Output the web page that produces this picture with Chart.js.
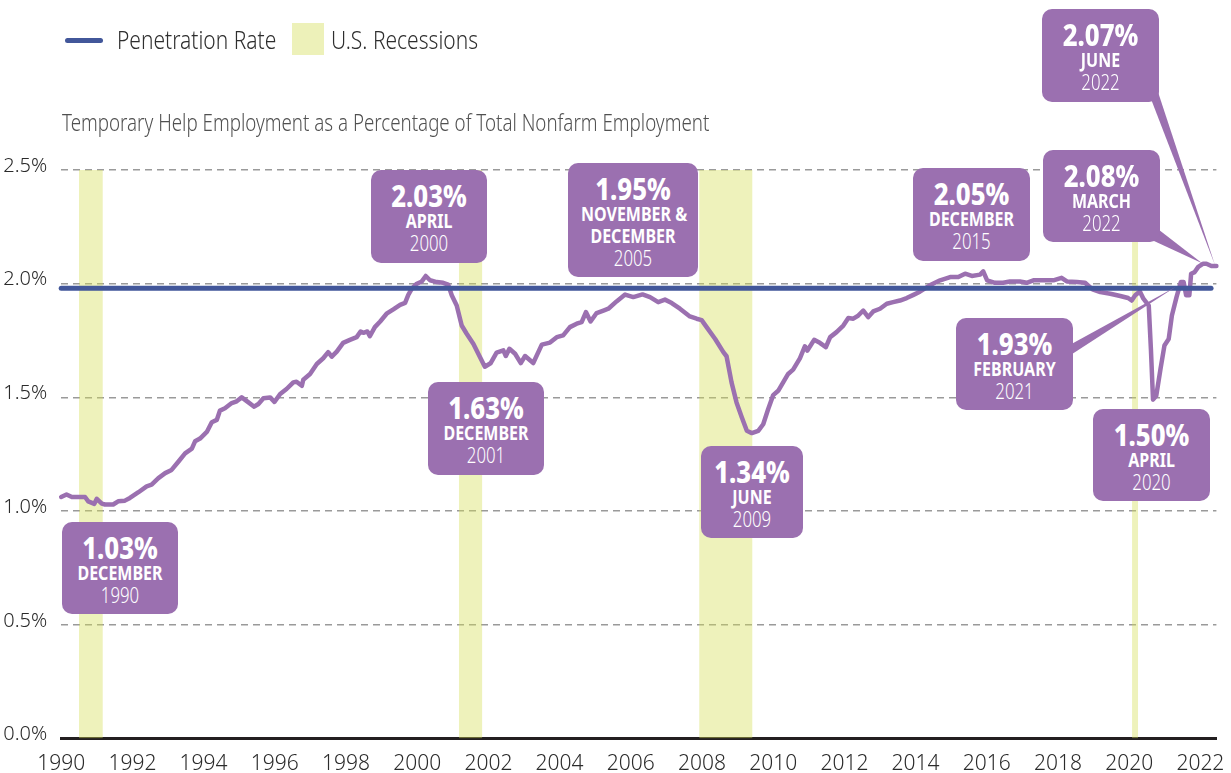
<!DOCTYPE html>
<html>
<head>
<meta charset="utf-8">
<script src="https://cdn.jsdelivr.net/npm/chart.js@4.4.1/dist/chart.umd.min.js"></script>
<style>
  body { margin: 0; background: #fff; }
  #wrap { position: relative; width: 1231px; height: 773px; overflow: hidden;
          font-family: 'Noto Sans', sans-serif; font-weight: 300; color: #333; }
  #chart { position: absolute; left: 0; top: 0; }
  /* the reference face is a condensed sans: squeeze Noto Sans horizontally */
  .legend-item { position: absolute; font-size: 25px; line-height: 32px; top: 23px; color: #2e2e2e;
                 white-space: nowrap; transform: scaleX(0.84); transform-origin: left center; }
  .swatch-line { position: absolute; left: 65px; top: 38px; width: 38px; height: 5px; border-radius: 3px; background: #42579a; }
  .swatch-box { position: absolute; left: 292px; top: 23px; width: 32px; height: 32px; background: #edf1b9; }
  .subtitle { position: absolute; left: 62px; top: 108px; font-size: 23px; line-height: 28px; color: #505050;
              white-space: nowrap; transform: scaleX(0.815); transform-origin: left center; }
  .callout { position: absolute; background: #9b70b0; border-radius: 10px; color: #fff; text-align: center;
             box-sizing: border-box; padding-top: 10px; white-space: nowrap; }
  .callout div { transform: scaleX(0.8); transform-origin: center; }
  .callout .pct { font-weight: 800; font-size: 31px; line-height: 30px; transform: scaleX(0.83); }
  .callout .mon { font-weight: 700; font-size: 20px; line-height: 22px; }
  .callout .yr { font-weight: 300; font-size: 21px; line-height: 22px; }
</style>
</head>
<body>
<div id="wrap">
  <canvas id="chart" width="1231" height="773"></canvas>
  <div class="swatch-line"></div>
  <div class="legend-item" style="left:117px">Penetration Rate</div>
  <div class="swatch-box"></div>
  <div class="legend-item" style="left:331px">U.S. Recessions</div>
  <div class="subtitle">Temporary Help Employment as a Percentage of Total Nonfarm Employment</div>
  <div id="callouts"></div>
</div>
<script>
// ---- data ----
// decimal years (month positions) and the temp-help share of nonfarm jobs, in %
const dates = [
  1990.00, 1990.15, 1990.30, 1990.67, 1990.76, 1990.93, 1991.00, 1991.14, 1991.23, 1991.46,
  1991.60, 1991.79, 1991.93, 1992.17, 1992.40, 1992.54, 1992.73, 1992.92, 1993.10, 1993.29,
  1993.48, 1993.67, 1993.76, 1993.90, 1994.09, 1994.23, 1994.37, 1994.46, 1994.60, 1994.79,
  1994.93, 1995.07, 1995.26, 1995.42, 1995.54, 1995.68, 1995.87, 1995.99, 1996.15, 1996.33,
  1996.52, 1996.61, 1996.76, 1996.80, 1996.99, 1997.18, 1997.36, 1997.50, 1997.60, 1997.74,
  1997.92, 1998.11, 1998.30, 1998.41, 1998.49, 1998.60, 1998.67, 1998.81, 1998.96, 1999.14,
  1999.33, 1999.52, 1999.66, 1999.75, 1999.85, 1999.99, 2000.13, 2000.24, 2000.36, 2000.55,
  2000.73, 2000.87, 2000.97, 2001.11, 2001.25, 2001.39, 2001.58, 2001.72, 2001.90, 2002.06,
  2002.23, 2002.42, 2002.49, 2002.59, 2002.75, 2002.91, 2003.03, 2003.26, 2003.50, 2003.73,
  2003.92, 2004.10, 2004.29, 2004.48, 2004.62, 2004.74, 2004.87, 2005.04, 2005.25, 2005.37,
  2005.60, 2005.84, 2006.07, 2006.33, 2006.54, 2006.77, 2006.96, 2007.15, 2007.38, 2007.66,
  2007.85, 2007.99, 2008.13, 2008.37, 2008.60, 2008.69, 2008.83, 2008.97, 2009.12, 2009.26,
  2009.40, 2009.58, 2009.72, 2009.86, 2010.00, 2010.14, 2010.28, 2010.42, 2010.56, 2010.75,
  2010.89, 2010.96, 2011.15, 2011.31, 2011.48, 2011.60, 2011.78, 2011.97, 2012.11, 2012.25,
  2012.39, 2012.53, 2012.67, 2012.81, 2013.00, 2013.19, 2013.37, 2013.56, 2013.75, 2013.94,
  2014.12, 2014.40, 2014.69, 2014.97, 2015.20, 2015.39, 2015.58, 2015.81, 2015.90, 2016.01,
  2016.23, 2016.46, 2016.65, 2016.93, 2017.12, 2017.31, 2017.59, 2017.87, 2018.10, 2018.25,
  2018.53, 2018.76, 2018.97, 2019.19, 2019.47, 2019.75, 2019.97, 2020.07, 2020.17, 2020.30,
  2020.40, 2020.55, 2020.61, 2020.67, 2020.76, 2020.88, 2020.99, 2021.11, 2021.20, 2021.33,
  2021.45, 2021.53, 2021.60, 2021.69, 2021.74, 2021.84, 2021.94, 2022.08, 2022.17, 2022.31,
  2022.45
];
const rates = [
  1.062, 1.073, 1.062, 1.062, 1.043, 1.032, 1.054, 1.033, 1.029, 1.029,
  1.043, 1.046, 1.058, 1.083, 1.109, 1.116, 1.145, 1.167, 1.181, 1.217,
  1.254, 1.275, 1.307, 1.319, 1.348, 1.391, 1.401, 1.442, 1.452, 1.475,
  1.483, 1.500, 1.478, 1.459, 1.471, 1.496, 1.500, 1.480, 1.515, 1.537,
  1.566, 1.569, 1.551, 1.578, 1.603, 1.647, 1.672, 1.699, 1.679, 1.701,
  1.740, 1.753, 1.765, 1.790, 1.784, 1.790, 1.769, 1.809, 1.834, 1.868,
  1.887, 1.907, 1.916, 1.951, 1.978, 2.000, 2.010, 2.034, 2.015, 2.007,
  2.004, 1.996, 1.949, 1.904, 1.816, 1.780, 1.735, 1.691, 1.635, 1.650,
  1.697, 1.707, 1.682, 1.714, 1.692, 1.651, 1.682, 1.651, 1.732, 1.741,
  1.765, 1.773, 1.809, 1.824, 1.831, 1.875, 1.834, 1.871, 1.883, 1.890,
  1.922, 1.952, 1.941, 1.953, 1.941, 1.919, 1.930, 1.915, 1.890, 1.856,
  1.846, 1.840, 1.809, 1.757, 1.699, 1.681, 1.566, 1.478, 1.412, 1.353,
  1.343, 1.353, 1.382, 1.449, 1.510, 1.529, 1.566, 1.603, 1.622, 1.672,
  1.725, 1.706, 1.753, 1.740, 1.721, 1.765, 1.787, 1.816, 1.849, 1.846,
  1.860, 1.882, 1.853, 1.878, 1.890, 1.912, 1.919, 1.926, 1.937, 1.951,
  1.965, 1.993, 2.015, 2.029, 2.029, 2.044, 2.034, 2.040, 2.054, 2.015,
  2.004, 2.004, 2.010, 2.010, 2.004, 2.015, 2.015, 2.015, 2.026, 2.010,
  2.007, 2.004, 1.975, 1.963, 1.956, 1.946, 1.937, 1.926, 1.949, 1.966,
  1.934, 1.904, 1.713, 1.490, 1.507, 1.625, 1.728, 1.757, 1.860, 1.941,
  2.007, 2.007, 1.949, 1.949, 2.044, 2.051, 2.074, 2.088, 2.088, 2.078,
  2.078
];

// recession bands (start / end as decimal years)
const recessionStart = [1990.50, 2001.17, 2007.92, 2020.08];
const recessionEnd   = [1991.17, 2001.83, 2009.42, 2020.25];

// average penetration rate line
const penetrationRate = 1.98;
const penetrationSpan = [1990, 2022.3];

// axis ticks
const yearTicks = [1990, 1992, 1994, 1996, 1998, 2000, 2002, 2004, 2006, 2008,
                   2010, 2012, 2014, 2016, 2018, 2020, 2022];
const rateTicks = [0, 0.5, 1.0, 1.5, 2.0, 2.5];

// ---- callouts (layout only) ----
const callouts = [
  { lines: ['1.03%', 'DECEMBER', '1990'],              left: 62,   top: 522, w: 116, h: 92 },
  { lines: ['2.03%', 'APRIL', '2000'],                 left: 371,  top: 170, w: 116, h: 93 },
  { lines: ['1.63%', 'DECEMBER', '2001'],              left: 428,  top: 382, w: 116, h: 93 },
  { lines: ['1.95%', 'NOVEMBER &', 'DECEMBER', '2005'], left: 568, top: 163, w: 130, h: 114 },
  { lines: ['1.34%', 'JUNE', '2009'],                  left: 701,  top: 446, w: 102, h: 92 },
  { lines: ['2.05%', 'DECEMBER', '2015'],              left: 913,  top: 168, w: 117, h: 93 },
  { lines: ['2.08%', 'MARCH', '2022'],                 left: 1043, top: 150, w: 117, h: 92 },
  { lines: ['2.07%', 'JUNE', '2022'],                  left: 1042, top: 9,   w: 117, h: 93 },
  { lines: ['1.93%', 'FEBRUARY', '2021'],              left: 956,  top: 318, w: 117, h: 92 },
  { lines: ['1.50%', 'APRIL', '2020'],                 left: 1093, top: 409, w: 117, h: 92 }
];

// wedge pointers: base corners in page pixels, tip in data units
const pointers = [
  { base: [[1066, 347], [1066, 358]], tip: [2021.30, 1.985] },
  { base: [[1154, 226], [1154, 241]], tip: [2022.05, 2.090] },
  { base: [[1151, 99],  [1158, 92]],  tip: [2022.41, 2.082] }
];

const PURPLE = '#9b70b0';
const FAMILY = "'Noto Sans', sans-serif";

const box = document.getElementById('callouts');
callouts.forEach(c => {
  const d = document.createElement('div');
  d.className = 'callout';
  Object.assign(d.style, { left: c.left + 'px', top: c.top + 'px', width: c.w + 'px', height: c.h + 'px' });
  c.lines.forEach((t, i) => {
    const s = document.createElement('div');
    s.className = i === 0 ? 'pct' : (i === c.lines.length - 1 ? 'yr' : 'mon');
    s.textContent = t;
    d.appendChild(s);
  });
  box.appendChild(d);
});

/* pointer wedges for the late callouts */
const pointerPlugin = {
  id: 'pointers',
  afterDatasetsDraw(chart) {
    const { ctx, scales: { x, y } } = chart;
    ctx.save();
    ctx.fillStyle = PURPLE;
    pointers.forEach(p => {
      ctx.beginPath();
      ctx.moveTo(p.base[0][0], p.base[0][1]);
      ctx.lineTo(p.base[1][0], p.base[1][1]);
      ctx.lineTo(x.getPixelForValue(p.tip[0]), y.getPixelForValue(p.tip[1]));
      ctx.closePath();
      ctx.fill();
    });
    ctx.restore();
  }
};

const bandSets = recessionStart.map((s, i) => ({
  label: 'U.S. Recessions',
  data: [{ x: s, y: 2.5 }, { x: recessionEnd[i], y: 2.5 }],
  fill: 'origin',
  backgroundColor: 'rgba(212, 222, 84, 0.4)',
  borderWidth: 0,
  pointRadius: 0,
  order: 3
}));

const tickFont = { family: FAMILY, size: 21, weight: '300' };

new Chart(document.getElementById('chart'), {
  type: 'line',
  data: {
    datasets: [
      {
        label: 'Penetration Rate',
        data: [{ x: penetrationSpan[0], y: penetrationRate }, { x: penetrationSpan[1], y: penetrationRate }],
        borderColor: '#42579a',
        borderWidth: 5,
        borderCapStyle: 'round',
        pointRadius: 0,
        clip: 8,
        order: 0
      },
      {
        label: 'Temporary Help Employment',
        data: dates.map((d, i) => ({ x: d, y: rates[i] })),
        borderColor: PURPLE,
        borderWidth: 4.5,
        borderJoinStyle: 'round',
        borderCapStyle: 'round',
        pointRadius: 0,
        tension: 0,
        fill: false,
        clip: 6,
        order: 1
      },
      ...bandSets
    ]
  },
  options: {
    responsive: false,
    animation: false,
    devicePixelRatio: 1,
    layout: { padding: { top: 170, right: 14.6, left: 0, bottom: 0 } },
    plugins: { legend: { display: false }, tooltip: { enabled: false } },
    scales: {
      x: {
        type: 'linear',
        min: 1990,
        max: 2022.45,
        afterBuildTicks: s => { s.ticks = yearTicks.map(v => ({ value: v })); },
        // fixed axis band; labels may overhang the plot edges
        afterFit: s => { s.height = 34.5; s.paddingLeft = 0; s.paddingRight = 0; },
        ticks: {
          callback: v => String(v),
          font: tickFont,
          color: '#2b2b2b',
          padding: 13,
          maxRotation: 0,
          autoSkip: false
        },
        grid: { display: false, drawTicks: false },
        border: { display: true, color: '#231f20', width: 3 }
      },
      y: {
        min: 0,
        max: 2.5,
        afterBuildTicks: s => { s.ticks = rateTicks.map(v => ({ value: v })); },
        afterFit: s => { s.width = 61.2; s.paddingTop = 0; s.paddingBottom = 0; },
        ticks: {
          callback: v => v.toFixed(1) + '%',
          font: { family: FAMILY, size: 20, weight: '300' },
          color: '#2b2b2b',
          padding: 14,
          labelOffset: -4
        },
        grid: { color: '#9a9a9a', lineWidth: 1.5, drawTicks: false },
        border: { display: false, dash: [7, 5] }
      }
    }
  },
  plugins: [pointerPlugin]
});
</script>
</body>
</html>
